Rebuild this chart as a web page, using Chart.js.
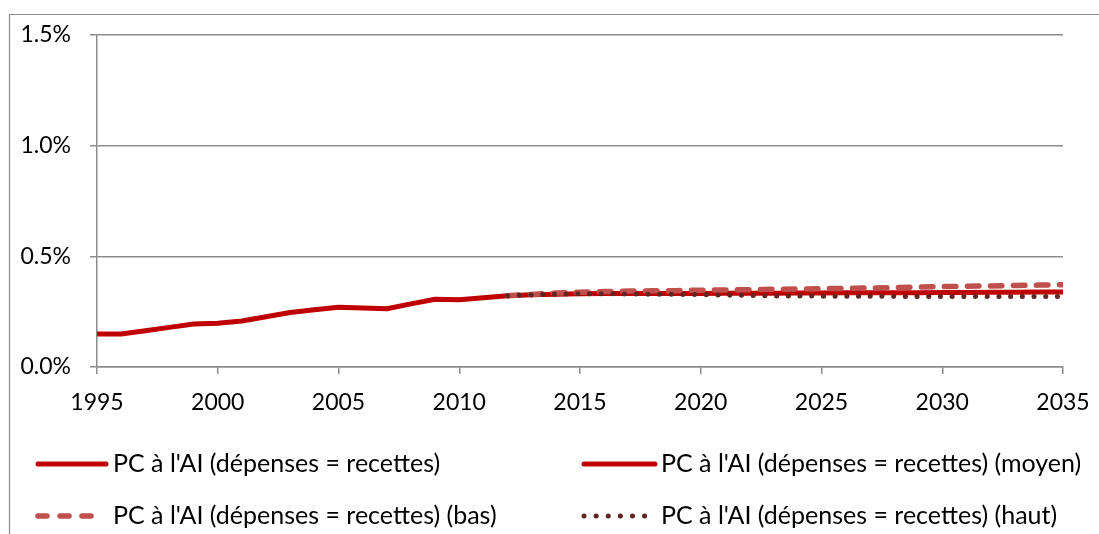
<!DOCTYPE html>
<html>
<head>
<meta charset="utf-8">
<script src="https://cdn.jsdelivr.net/npm/chart.js@4.4.1/dist/chart.umd.min.js"></script>
<style>
  html, body { margin: 0; padding: 0; background: #fff; }
  #wrap { width: 1099px; height: 534px; position: relative; }
</style>
</head>
<body>
<div id="wrap"><canvas id="chart"></canvas></div>
<script>
// Values in percent of the base
const histYears = [1995, 1996, 1997, 1998, 1999, 2000, 2001, 2002, 2003, 2004, 2005, 2006, 2007, 2008, 2009, 2010, 2011, 2012];
const histValues = [0.149, 0.149, 0.164, 0.179, 0.194, 0.198, 0.208, 0.227, 0.246, 0.259, 0.270, 0.267, 0.263, 0.285, 0.306, 0.304, 0.313, 0.322];

const projYears = [2012, 2013, 2014, 2015, 2016, 2017, 2018, 2019, 2020, 2021, 2022, 2023, 2024, 2025, 2026, 2027, 2028, 2029, 2030, 2031, 2032, 2033, 2034, 2035];
const moyenValues = [0.322, 0.326, 0.329, 0.331, 0.332, 0.332, 0.332, 0.332, 0.332, 0.333, 0.333, 0.333, 0.334, 0.334, 0.335, 0.335, 0.336, 0.336, 0.337, 0.337, 0.338, 0.338, 0.339, 0.339];
const basValues = [0.322, 0.328, 0.334, 0.338, 0.341, 0.343, 0.344, 0.345, 0.347, 0.348, 0.349, 0.351, 0.352, 0.354, 0.355, 0.357, 0.359, 0.361, 0.363, 0.365, 0.366, 0.368, 0.370, 0.372];
const hautValues = [0.322, 0.326, 0.329, 0.331, 0.331, 0.330, 0.329, 0.328, 0.327, 0.325, 0.323, 0.321, 0.321, 0.320, 0.320, 0.320, 0.319, 0.319, 0.319, 0.319, 0.318, 0.318, 0.318, 0.318];

const xTicks = [1995, 2000, 2005, 2010, 2015, 2020, 2025, 2030, 2035];
const seriesLabels = [
  "PC à l'AI (dépenses = recettes)",
  "PC à l'AI (dépenses = recettes) (moyen)",
  "PC à l'AI (dépenses = recettes) (bas)",
  "PC à l'AI (dépenses = recettes) (haut)"
];

const gray = '#8c8c8c';
const fontFamily = "Lato, 'Liberation Sans', sans-serif";
const toPoints = (xs, ys) => xs.map((x, i) => ({ x, y: ys[i] }));

Chart.defaults.font.family = fontFamily;
Chart.defaults.font.size = 23;
Chart.defaults.color = '#000';

// frame lines of the original chart box (clipped on right and bottom)
const framePlugin = {
  id: 'frame',
  beforeDraw(chart) {
    const ctx = chart.ctx;
    ctx.save();
    ctx.strokeStyle = gray;
    ctx.lineWidth = 1.2;
    ctx.beginPath();
    ctx.moveTo(9.5, chart.height);
    ctx.lineTo(9.5, 14.5);
    ctx.lineTo(chart.width, 14.5);
    ctx.stroke();
    ctx.restore();
  }
};

// two-column legend at the bottom
const legendPlugin = {
  id: 'gridLegend',
  afterDraw(chart) {
    const ctx = chart.ctx;
    const cols = [{ x0: 38, tx: 113 }, { x0: 584, tx: 661 }];
    const rows = [464, 516];
    chart.data.datasets.forEach((ds, i) => {
      const c = cols[i % 2];
      const y = rows[Math.floor(i / 2)];
      ctx.save();
      ctx.strokeStyle = ds.borderColor;
      ctx.lineWidth = ds.borderWidth;
      ctx.lineCap = 'round';
      ctx.setLineDash(ds.legendDash || []);
      ctx.beginPath();
      ctx.moveTo(c.x0, y);
      ctx.lineTo(c.x0 + ds.legendLength, y);
      ctx.stroke();
      ctx.restore();
      ctx.save();
      ctx.fillStyle = '#000';
      ctx.font = '25px ' + fontFamily;
      ctx.textBaseline = 'middle';
      ctx.fillText(ds.label, c.tx, y);
      ctx.restore();
    });
  }
};

new Chart(document.getElementById('chart'), {
  type: 'line',
  data: {
    datasets: [
      { label: seriesLabels[0], data: toPoints(histYears, histValues), borderColor: '#C00000', borderWidth: 5,
        legendLength: 68, order: 4 },
      { label: seriesLabels[1], data: toPoints(projYears, moyenValues), borderColor: '#C00000', borderWidth: 5,
        legendLength: 71, order: 3 },
      { label: seriesLabels[2], data: toPoints(projYears, basValues), borderColor: '#C0504D', borderWidth: 5.5,
        borderDash: [11.5, 11.5], borderCapStyle: 'round', legendDash: [9, 13], legendLength: 54, order: 2 },
      { label: seriesLabels[3], data: toPoints(projYears, hautValues), borderColor: '#632523', borderWidth: 5,
        borderDash: [0.1, 11.6], borderCapStyle: 'round', legendDash: [0.1, 12], legendLength: 61, order: 1 }
    ]
  },
  options: {
    responsive: true,
    maintainAspectRatio: false,
    animation: false,
    layout: { padding: { top: 35, right: 36, left: 0, bottom: 0 } },
    elements: { point: { radius: 0 }, line: { tension: 0, borderJoinStyle: 'round' } },
    plugins: { legend: { display: false }, tooltip: { enabled: false } },
    scales: {
      x: {
        type: 'linear',
        min: 1995,
        max: 2035,
        afterBuildTicks: (scale) => { scale.ticks = xTicks.map(v => ({ value: v })); },
        afterFit: (scale) => { scale.height = 167; scale.paddingLeft = 0; scale.paddingRight = 0; },
        ticks: { padding: 15, maxRotation: 0, callback: (v) => String(v) },
        grid: { drawOnChartArea: false, color: gray, lineWidth: 1.5, tickLength: 7 },
        border: { color: gray, width: 1.5 }
      },
      y: {
        min: 0,
        max: 1.5,
        afterFit: (scale) => { scale.width = 97; scale.paddingTop = 0; scale.paddingBottom = 0; },
        ticks: { stepSize: 0.5, padding: 19, callback: (v) => v.toFixed(1) + '%' },
        grid: { color: gray, lineWidth: 1.5, tickLength: 7 },
        border: { color: gray, width: 1.5 }
      }
    }
  },
  plugins: [framePlugin, legendPlugin]
});
</script>
</body>
</html>
